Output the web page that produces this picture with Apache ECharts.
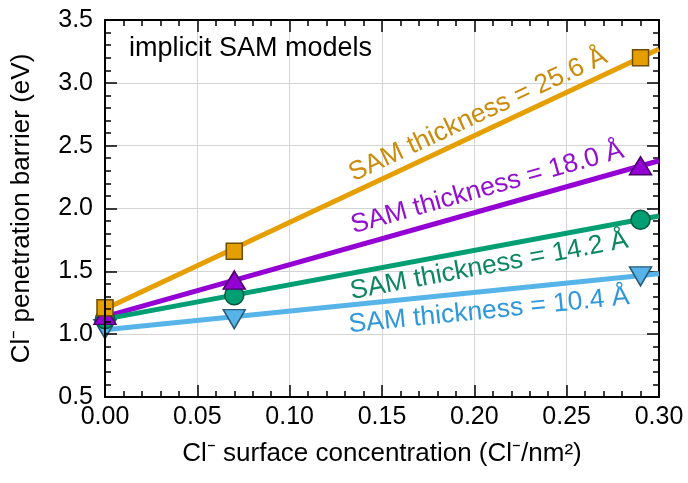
<!DOCTYPE html>
<html lang="en">
<head>
    <meta charset="UTF-8">
    <title>Cl penetration barrier</title>
    <style>
        body { margin: 0; background: #fff; }
        #main { width: 688px; height: 483px; }
    </style>
</head>
<body>
    <div id="main"></div>
    <script src="https://cdn.jsdelivr.net/npm/echarts@6/dist/echarts.min.js"></script>
    <script>
        // data
        var xPts = [0, 0.07, 0.29];
        var orangeVals = [1.21, 1.66, 3.20];
        var purpleVals = [1.15, 1.43, 2.34];
        var greenVals = [1.12, 1.31, 1.91];
        var blueVals = [1.04, 1.12, 1.46];

        // linear fits: value at x = 0 and x = 0.30
        var fitX = [0, 0.30];
        var orangeFit = [1.20, 3.27];
        var purpleFit = [1.14, 2.38];
        var greenFit = [1.12, 1.94];
        var blueFit = [1.035, 1.48];

        var labelTexts = ['SAM thickness = 25.6 Å', 'SAM thickness = 18.0 Å', 'SAM thickness = 14.2 Å', 'SAM thickness = 10.4 Å'];
        var labelX = [0.202, 0.207, 0.208, 0.208];
        var labelY = [2.744, 2.163, 1.543, 1.185];

        var xTicks = ['0.00', '0.05', '0.10', '0.15', '0.20', '0.25', '0.30'];
        var yTicks = ['0.5', '1.0', '1.5', '2.0', '2.5', '3.0', '3.5'];

        var FONT = "'Liberation Sans', Arial, sans-serif";
        var lineCols = ['#E69F00', '#9400D3', '#009E73', '#56B4E9'];
        var edgeCols = ['#6E4C00', '#4A0069', '#00553E', '#2A5B78'];
        var textCols = ['#CB8C0C', '#9410D0', '#0B8762', '#2F98DB'];

        var myChart = echarts.init(document.getElementById('main'));

        function pairs(xs, ys) {
            var out = [];
            for (var i = 0; i < xs.length; i++) out.push([xs[i], ys[i]]);
            return out;
        }

        var groups = [
            { vals: orangeVals, fit: orangeFit, symbol: 'rect', size: [16, 16], rot: 0, z: 8 },
            { vals: purpleVals, fit: purpleFit, symbol: 'triangle', size: [22, 18], rot: 0, z: 7 },
            { vals: greenVals, fit: greenFit, symbol: 'circle', size: [19, 19], rot: 0, z: 6 },
            { vals: blueVals, fit: blueFit, symbol: 'triangle', size: [22, 19], rot: 180, z: 5 }
        ];

        var series = [];
        groups.forEach(function (g, i) {
            series.push({
                type: 'line',
                data: pairs(fitX, g.fit),
                showSymbol: false,
                symbol: 'none',
                silent: true,
                z: 2,
                lineStyle: { color: lineCols[i], width: 5 }
            });
        });
        groups.forEach(function (g, i) {
            series.push({
                type: 'scatter',
                data: pairs(xPts, g.vals),
                symbol: g.symbol,
                symbolSize: g.size,
                symbolRotate: g.rot,
                z: g.z,
                itemStyle: { color: lineCols[i], borderColor: edgeCols[i], borderWidth: 1.5, opacity: 1 }
            });
        });

        // fresh objects for every axis
        function tickStyle() { return { show: true, inside: true, length: 12, lineStyle: { color: '#000', width: 1.5 } }; }
        function minorStyle() { return { show: true, splitNumber: 5, length: 6, lineStyle: { color: '#000', width: 1.5 } }; }
        function lineStyle() { return { show: true, onZero: false, lineStyle: { color: '#000', width: 2 } }; }

        var option = {
            animation: false,
            grid: { left: 105, right: 29, top: 20, bottom: 86 },
            xAxis: [{
                type: 'value', min: 0, max: 0.3, interval: 0.05, position: 'bottom',
                axisLine: lineStyle(), axisTick: tickStyle(), minorTick: minorStyle(),
                splitLine: { show: true, lineStyle: { color: '#d4d4d4', width: 1 } },
                axisLabel: {
                    inside: false,
                    fontFamily: FONT, fontSize: 25, color: '#000', margin: 8,
                    formatter: function (v) { return xTicks[Math.round(v / 0.05)]; }
                },
                name: 'Cl⁻ surface concentration (Cl⁻/nm²)',
                nameLocation: 'middle', nameGap: 44,
                nameTextStyle: { fontFamily: FONT, fontSize: 26, color: '#000' }
            }, {
                type: 'value', min: 0, max: 0.3, interval: 0.05, position: 'top',
                axisLine: lineStyle(), axisTick: tickStyle(), minorTick: minorStyle(),
                splitLine: { show: false }, axisLabel: { show: false }
            }],
            yAxis: [{
                type: 'value', min: 0.5, max: 3.5, interval: 0.5, position: 'left', z: 10,
                axisLine: lineStyle(), axisTick: tickStyle(), minorTick: minorStyle(),
                splitLine: { show: false },
                axisLabel: {
                    inside: false,
                    fontFamily: FONT, fontSize: 25, color: '#000', margin: 12,
                    formatter: function (v) { return yTicks[Math.round((v - 0.5) / 0.5)]; }
                },
                name: 'Cl⁻ penetration barrier (eV)',
                nameLocation: 'middle', nameGap: 70, nameRotate: 90,
                nameTextStyle: { fontFamily: FONT, fontSize: 26, color: '#000' }
            }, {
                type: 'value', min: 0.5, max: 3.5, interval: 0.5, position: 'right',
                axisLine: lineStyle(), axisTick: tickStyle(), minorTick: minorStyle(),
                splitLine: { show: true, lineStyle: { color: '#d4d4d4', width: 1 } },
                axisLabel: { show: false }
            }],
            series: series
        };
        myChart.setOption(option);

        // annotation texts, rotated along each fit line
        var graphics = [{
            type: 'text', left: 129, top: 35, z: 20,
            style: { text: 'implicit SAM models', fontFamily: FONT, fontSize: 27, fill: '#000' }
        }];
        groups.forEach(function (g, i) {
            var p0 = myChart.convertToPixel({ xAxisIndex: 0, yAxisIndex: 0 }, [fitX[0], g.fit[0]]);
            var p1 = myChart.convertToPixel({ xAxisIndex: 0, yAxisIndex: 0 }, [fitX[1], g.fit[1]]);
            var ang = Math.atan2(p0[1] - p1[1], p1[0] - p0[0]);
            var c = myChart.convertToPixel({ xAxisIndex: 0, yAxisIndex: 0 }, [labelX[i], labelY[i]]);
            graphics.push({
                type: 'text', x: c[0], y: c[1], rotation: ang, z: 20,
                style: {
                    text: labelTexts[i], fontFamily: FONT, fontSize: 26.5, fill: textCols[i],
                    align: 'center', verticalAlign: 'middle'
                }
            });
        });
        myChart.setOption({ graphic: graphics });
    </script>
</body>
</html>
